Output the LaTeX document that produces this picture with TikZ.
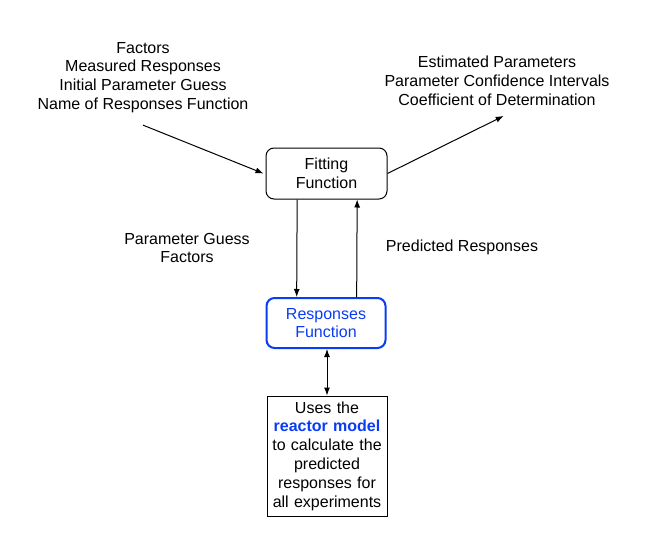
\documentclass[tikz,border=0pt]{standalone}
\usepackage{fontspec}
\setmainfont{Liberation Sans}
\usetikzlibrary{arrows.meta}
\definecolor{respblue}{RGB}{10,60,245}

\begin{document}
\begin{tikzpicture}[>={Latex[length=6pt,width=4.5pt]}, x=0.75pt, y=-0.75pt,
    font=\fontsize{12}{14.1}\selectfont, line width=0.75pt]
  \useasboundingbox (0,0) rectangle (650,550);
  % inputs and outputs of the fit
  \node[align=center] (inp) at (143,77.5) {Factors\\Measured Responses\\Initial Parameter Guess\\Name of Responses Function};
  \node[align=center] (outp) at (497,81) {Estimated Parameters\\Parameter Confidence Intervals\\Coefficient of Determination};
  % the two functions
  \node[draw, rounded corners=6pt, minimum width=90.75pt, minimum height=38.25pt, align=center] (fit) at (326.5,173.5) {Fitting\\Function};
  \node[draw=respblue, text=respblue, line width=1.5pt, rounded corners=6pt, minimum width=89.25pt, minimum height=37.5pt, align=center] (resp) at (326,323) {Responses\\Function};
  \node[draw, text width=88pt, inner sep=1pt, minimum height=90pt, align=center] (model) at (327,456)
    {Uses the\\{\color{respblue}\bfseries reactor model}\\to calculate the\\predicted\\responses for\\all experiments};
  % connectors
  \draw[->] ([yshift=-5.5pt]inp.south) -- ([xshift=-1.5pt]fit.west);
  \draw[->] (fit.east) -- ([yshift=-4pt,xshift=5pt]outp.south);
  \draw[->] ([xshift=-22pt]fit.south) -- ([xshift=-22pt]resp.north);
  \draw[->] ([xshift=23pt]resp.north) -- ([xshift=23pt]fit.south);
  \draw[<->] ([xshift=0.75pt]resp.south) -- (model.north);
  % labels beside the loop
  \node[align=center] (guess) at (187,248) {Parameter Guess\\Factors};
  \node (pred) at (462,247) {Predicted Responses};
\end{tikzpicture}
\end{document}
